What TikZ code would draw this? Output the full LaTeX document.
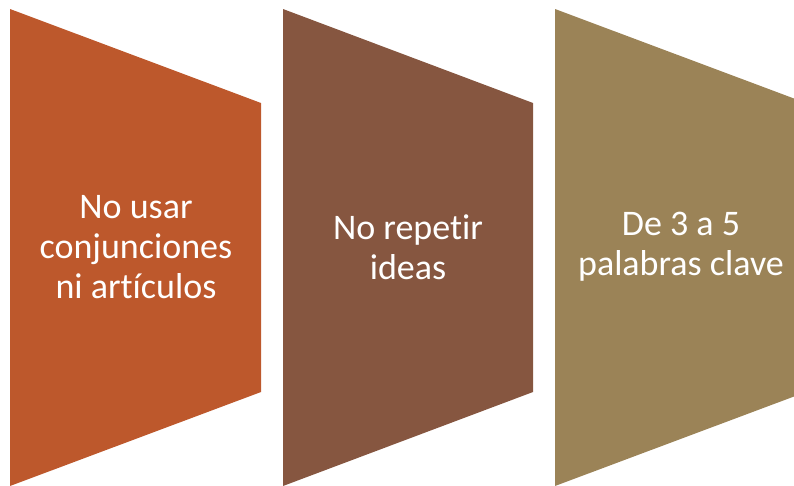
\documentclass[tikz,border=0pt]{standalone}
\usepackage{fontspec}
\setmainfont{Carlito}[RawFeature=-liga]
\definecolor{accA}{HTML}{BD582C}
\definecolor{accB}{HTML}{865640}
\definecolor{accC}{HTML}{9B8357}
\begin{document}
\begin{tikzpicture}[x=1pt,y=-1pt,
  lbl/.style={text=white,align=center,font=\fontsize{36}{40}\selectfont,inner sep=0pt}]
\useasboundingbox (0,0) rectangle (794,485);
\clip (0,0) rectangle (794,485);
\fill[accA] (10,9) -- (261,103) -- (261,392) -- (10,486) -- cycle;
\fill[accB] (283,9) -- (533,103) -- (533,392) -- (283,486) -- cycle;
\fill[accC] (555,9) -- (806,103) -- (806,392) -- (555,486) -- cycle;
\node[lbl] (t1) at (136,247) {No usar\\conjunciones\\ni artículos};
\node[lbl] (t2) at (408,247) {No repetir\\ideas};
\node[lbl] (t3) at (681,247) {De 3 a 5\\palabras clave};
\end{tikzpicture}
\end{document}
